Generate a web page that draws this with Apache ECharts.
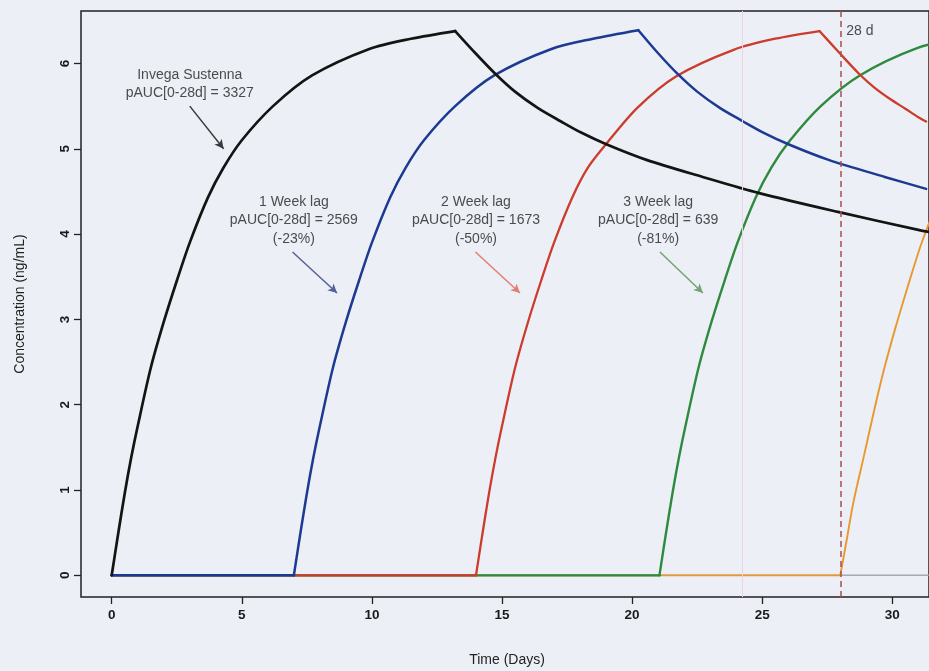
<!DOCTYPE html>
<html>
<head>
<meta charset="utf-8">
<script src="https://cdn.jsdelivr.net/npm/echarts@6/dist/echarts.min.js"></script>
<style>
html,body{margin:0;padding:0;background:#eceff5;}
#chart{width:929px;height:671px;}
</style>
</head>
<body>
<div id="chart"></div>
<script>
// ---- data (day, concentration ng/mL) ----
const xTicks = [0, 5, 10, 15, 20, 25, 30];
const yTicks = [0, 1, 2, 3, 4, 5, 6];

const invega = [[0,0],[0.25,0.49],[0.5,0.96],[0.75,1.38],[1.0,1.75],[1.5,2.43],[2.0,2.97],[2.5,3.45],[3.0,3.90],[3.7,4.43],[4.3,4.78],[5.0,5.10],[6.2,5.50],[7.7,5.86],[9.9,6.17],[11.5,6.29],[13.2,6.38],[13.98,6.12],[14.74,5.88],[15.5,5.67],[16.37,5.48],[17.27,5.32],[18.04,5.19],[19.03,5.05],[20.55,4.87],[22.71,4.67],[24.88,4.48],[27.91,4.26],[31.0,4.05],[31.5,4.02]];
const lag1 = [[0,0],[7.0,0],[7.25,0.49],[7.5,0.96],[7.75,1.38],[8.0,1.75],[8.5,2.43],[9.0,2.97],[9.5,3.45],[10.0,3.90],[10.7,4.43],[11.3,4.78],[12.0,5.10],[13.2,5.50],[14.7,5.86],[16.9,6.17],[18.5,6.29],[20.24,6.39],[21.0,6.12],[21.74,5.88],[22.5,5.67],[23.37,5.48],[24.27,5.32],[25.04,5.19],[26.03,5.05],[27.55,4.87],[29.71,4.67],[31.3,4.53]];
const lag2 = [[0,0],[14.0,0],[14.25,0.49],[14.5,0.96],[14.75,1.38],[15.0,1.75],[15.5,2.43],[16.0,2.97],[16.5,3.45],[17.0,3.90],[17.7,4.43],[18.3,4.78],[19.04,5.07],[20.2,5.48],[21.7,5.85],[23.9,6.16],[25.5,6.29],[27.2,6.38],[27.98,6.12],[28.72,5.88],[29.3,5.72],[29.93,5.58],[30.5,5.47],[31.0,5.37],[31.3,5.32]];
const lag3 = [[0,0],[21.05,0],[21.3,0.49],[21.55,0.96],[21.8,1.38],[22.05,1.75],[22.55,2.43],[23.05,2.97],[23.55,3.45],[24.05,3.90],[24.75,4.43],[25.35,4.78],[26.05,5.09],[27.25,5.50],[28.75,5.86],[30.95,6.18],[32.55,6.29]];
const lag4 = [[0,0],[28.0,0],[28.25,0.42],[28.5,0.85],[28.91,1.40],[29.3,1.93],[29.67,2.40],[30.1,2.88],[30.56,3.35],[31.04,3.82],[31.5,4.20]];
const baseline = [[0,0],[31.4,0]];

const annoLabels = ['Invega Sustenna\npAUC[0-28d] = 3327','1 Week lag\npAUC[0-28d] = 2569\n(-23%)','2 Week lag\npAUC[0-28d] = 1673\n(-50%)','3 Week lag\npAUC[0-28d] = 639\n(-81%)'];
const annoPos = [[3,5.76],[7,4.16],[14,4.16],[21,4.16]];
const arrowFrom = [[3,5.5],[6.95,3.79],[13.98,3.79],[21.07,3.79]];
const arrowTo = [[4.3,5.0],[8.66,3.31],[15.69,3.31],[22.72,3.31]];
const arrowColors = ['#3a3a3a','#56609a','#e0806f','#6fa56f'];
const cutoffDay = 28;
const cutoffLabel = '28 d';

const FONT = '"Liberation Sans", Arial, Helvetica, sans-serif';
const chart = echarts.init(document.getElementById('chart'), null, {renderer:'canvas'});

// split a profile into flat / rising / falling pieces so corners stay sharp
function profileSeries(name, data, color, width){
  let lastZero = 0;
  for (let i = 0; i < data.length; i++) if (data[i][1] === 0) lastZero = i;
  let peak = 0;
  for (let i = 0; i < data.length; i++) if (data[i][1] > data[peak][1]) peak = i;
  const parts = [];
  if (lastZero > 0) parts.push({d:data.slice(0, lastZero + 1), smooth:false});
  if (peak > lastZero && peak < data.length - 1) {
    parts.push({d:data.slice(lastZero, peak + 1), smooth:true});
    parts.push({d:data.slice(peak), smooth:true});
  } else {
    parts.push({d:data.slice(lastZero), smooth:true});
  }
  return parts.map(p => ({name, type:'line', data:p.d, showSymbol:false, symbol:'none',
    smooth:p.smooth ? 0.3 : false,
    lineStyle:{color, width, cap:'round', join:'round'}, itemStyle:{color},
    silent:true, animation:false, clip:true, z:3}));
}

const series = [
  {type:'line', name:'base', data:baseline, showSymbol:false, symbol:'none', lineStyle:{color:'#a9aab0', width:1.5}, silent:true, animation:false, z:1,
    markLine:{silent:true, animation:false, symbol:['none','none'], label:{show:false},
      data:[
        {xAxis:24.25, lineStyle:{color:'#ecd3e2', width:1, type:'solid'}},
        {xAxis:cutoffDay, lineStyle:{color:'#a55050', width:1.5, type:[6,4]}}
      ]}},
  ...profileSeries('4 Week lag', lag4, '#e8982f', 1.9),
  ...profileSeries('3 Week lag', lag3, '#2e8a3d', 2.4),
  ...profileSeries('2 Week lag', lag2, '#cc3c2c', 2.3),
  ...profileSeries('1 Week lag', lag1, '#1d3a92', 2.5),
  ...profileSeries('Invega Sustenna', invega, '#141414', 2.7),
];

arrowFrom.forEach((f,i)=>{
  series.push({type:'line', data:[], silent:true, animation:false, z:4,
    markLine:{silent:true, animation:false, symbol:['none','arrow'], symbolSize:[7,9], label:{show:false},
      lineStyle:{color:arrowColors[i], width:1.5, type:'solid'}, itemStyle:{color:arrowColors[i]},
      data:[[{coord:f},{coord:arrowTo[i]}]]}});
});

series.push({type:'scatter', data:annoPos.map((p,i)=>({name:annoLabels[i], value:p})), symbolSize:0, silent:true, animation:false, z:5,
  label:{show:true, position:'inside', formatter:'{b}', color:'#222', fontFamily:FONT, fontSize:14, lineHeight:18.5, align:'center', verticalAlign:'middle'}});
series.push({type:'scatter', data:[{name:cutoffLabel, value:[cutoffDay,6.38]}], symbolSize:0, silent:true, animation:false, z:5,
  label:{show:true, position:'right', distance:6, formatter:'{b}', color:'#222', fontFamily:FONT, fontSize:14}});

chart.setOption({
  backgroundColor:'#eceff5',
  animation:false,
  grid:{left:81, top:11, right:-10, bottom:74, show:true, borderColor:'#222', borderWidth:1.5, backgroundColor:'transparent'},
  xAxis:{type:'value', min:-1.18, max:31.41, axisLine:{show:false, onZero:false}, splitLine:{show:false},
    axisTick:{show:true, inside:false, length:7, customValues:xTicks, lineStyle:{color:'#222', width:1.3}},
    axisLabel:{customValues:xTicks, margin:11, color:'#1a1a1a', fontFamily:FONT, fontSize:13.5, fontWeight:'bold'}},
  yAxis:{type:'value', min:-0.254, max:6.615, axisLine:{show:false, onZero:false}, splitLine:{show:false},
    axisTick:{show:true, inside:false, length:7, customValues:yTicks, lineStyle:{color:'#222', width:1.3}},
    axisLabel:{customValues:yTicks, rotate:90, margin:9, color:'#1a1a1a', fontFamily:FONT, fontSize:13.5, fontWeight:'bold'}},
  graphic:[
    {type:'text', position:[507,660], style:{text:'Time (Days)', font:'14px '+FONT, fill:'#222', textAlign:'center', textVerticalAlign:'middle'}},
    {type:'text', rotation:Math.PI/2, position:[20,304], style:{text:'Concentration (ng/mL)', font:'14px '+FONT, fill:'#222', textAlign:'center', textVerticalAlign:'middle'}}
  ],
  series
});
</script>
</body>
</html>
